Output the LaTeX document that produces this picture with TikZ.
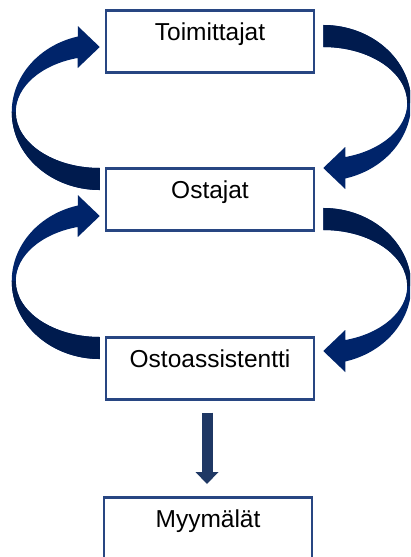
\documentclass[tikz,border=0pt]{standalone}
\usepackage{fontspec}
\setmainfont{Liberation Sans}
\usetikzlibrary{arrows.meta,calc}

\definecolor{boxblue}{RGB}{40,70,130}
\definecolor{arrowlight}{RGB}{0,36,106}
\definecolor{arrowdark}{RGB}{0,27,78}
\definecolor{downblue}{RGB}{31,56,100}

\begin{document}
\begin{tikzpicture}[x=1pt, y=1pt,
  every node/.style={font=\fontsize{24.5}{28}\selectfont},
  box/.style={draw=boxblue, line width=2.5pt, fill=white, minimum width=208pt,
    inner sep=0pt, text height=30pt, text depth=32pt, anchor=north},
  looparrow/.pic={
    % whole ribbon with head
    \fill[arrowlight] (0,0) arc[start angle=270, end angle=105.2, x radius=84, y radius=56]
      -- (-22,100) -- (0,121) -- (-22,142) -- (-22,131.5)
      arc[start angle=104.48, end angle=270, x radius=88, y radius=78] -- cycle;
    % darker tail half
    \fill[arrowdark] (0,0) arc[start angle=270, end angle=180, x radius=84, y radius=56]
      -- (-88,56) arc[start angle=180, end angle=270, x radius=88, y radius=78] -- cycle;
  }]

\useasboundingbox (0,0) rectangle (410,-557);
\clip (0,0) rectangle (410,-557);

% ----------------------------------------------------
% 1. Boxes
% ----------------------------------------------------
\node[box] (toi) at (210,-9) {Toimittajat};
\node[box] (ost) at (210,-167) {Ostajat};
\node[box] (ast) at (210,-336) {Ostoassistentti};
\node[box] (myy) at (208,-496) {Myymälät};

% ----------------------------------------------------
% 2. Loop arrows between the boxes
% ----------------------------------------------------
\pic at ($(ost.north west)+(-5,-1)$) {looparrow};
\pic at ($(ast.north west)+(-5,-1)$) {looparrow};
\pic[rotate=180] at ($(toi.north east)+(8,-38)$) {looparrow};
\pic[rotate=180] at ($(ost.north east)+(8,-63)$) {looparrow};

% ----------------------------------------------------
% 3. Down arrow
% ----------------------------------------------------
\draw[downblue, line width=11pt, -{Triangle[width=23pt, length=12pt, line width=0pt]}]
  ($(ast.south)+(-3,-12)$) -- ($(myy.north)+(-1,12)$);

\end{tikzpicture}
\end{document}
